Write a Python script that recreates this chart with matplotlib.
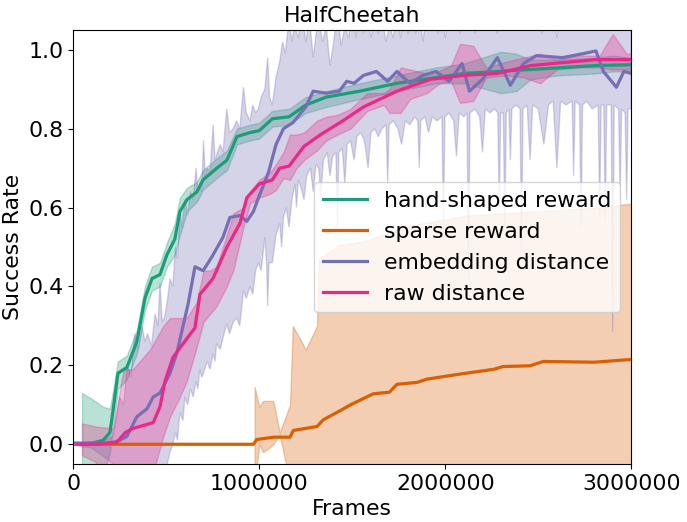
import numpy as np
import matplotlib
matplotlib.use("Agg")
import matplotlib.pyplot as plt
from matplotlib.ticker import FixedLocator

# ---------------- data ----------------
title = "HalfCheetah"
labels = ["hand-shaped reward", "sparse reward", "embedding distance", "raw distance"]
colors = ["#1b9e77", "#d95f02", "#7570b3", "#e7298a"]
xticks = [0, 1000000, 2000000, 3000000]
yticks = [0.0, 0.2, 0.4, 0.6, 0.8, 1.0]

# hand-shaped reward
hand_x = [18e3, 100e3, 160e3, 197e3, 215e3, 240e3, 288e3, 342e3, 385e3, 423e3, 466e3, 503e3,
          546e3, 573e3, 611e3, 665e3, 697e3, 772e3, 826e3, 880e3, 950e3, 1.0e6, 1.07e6, 1.16e6,
          1.25e6, 1.36e6, 1.54e6, 1.74e6, 2.1e6, 2.46e6, 2.81e6, 3.0e6]
hand_y = [0.0, 0.003, 0.01, 0.03, 0.09, 0.18, 0.195, 0.26, 0.37, 0.42, 0.43, 0.48,
          0.52, 0.59, 0.62, 0.64, 0.67, 0.70, 0.72, 0.78, 0.79, 0.795, 0.825, 0.83,
          0.86, 0.88, 0.895, 0.915, 0.94, 0.95, 0.96, 0.962]
hand_band_x = [47e3, 100e3, 160e3, 197e3, 240e3, 288e3, 342e3, 385e3, 423e3, 466e3, 503e3, 546e3,
               573e3, 611e3, 665e3, 697e3, 772e3, 826e3, 880e3, 950e3, 1.0e6, 1.07e6, 1.16e6, 1.25e6,
               1.36e6, 1.54e6, 1.74e6, 1.95e6, 2.1e6, 2.3e6, 2.38e6, 2.46e6, 2.6e6, 2.81e6, 2.9e6, 3.0e6]
hand_hi = [0.13, 0.115, 0.095, 0.09, 0.21, 0.225, 0.29, 0.40, 0.45, 0.46, 0.51, 0.56,
           0.625, 0.65, 0.665, 0.695, 0.725, 0.745, 0.80, 0.81, 0.815, 0.845, 0.85, 0.88,
           0.895, 0.915, 0.935, 0.955, 0.965, 0.995, 0.99, 0.975, 0.975, 0.98, 0.985, 0.98]
hand_lo = [-0.1, -0.1, -0.08, -0.02, 0.14, 0.165, 0.23, 0.34, 0.39, 0.40, 0.45, 0.48,
           0.53, 0.59, 0.615, 0.645, 0.675, 0.695, 0.76, 0.77, 0.775, 0.805, 0.81, 0.84,
           0.855, 0.875, 0.895, 0.915, 0.915, 0.89, 0.895, 0.925, 0.935, 0.94, 0.945, 0.945]

# sparse reward
sparse_x = [0, 968e3, 986e3, 1.076e6, 1.165e6, 1.183e6, 1.31e6, 1.344e6, 1.434e6, 1.49e6, 1.613e6,
            1.70e6, 1.74e6, 1.85e6, 1.90e6, 2.08e6, 2.26e6, 2.31e6, 2.456e6, 2.527e6, 2.8e6, 3.0e6]
sparse_y = [0.0, 0.0, 0.012, 0.018, 0.018, 0.035, 0.045, 0.062, 0.085, 0.10, 0.128,
            0.132, 0.152, 0.157, 0.165, 0.178, 0.19, 0.197, 0.199, 0.21, 0.208, 0.215]
sparse_band_x = [975e3, 1.0e6, 1.02e6, 1.05e6, 1.075e6, 1.11e6, 1.165e6, 1.18e6, 1.25e6, 1.31e6,
                 1.32e6, 1.43e6, 1.58e6, 1.76e6, 2.12e6, 2.47e6, 2.83e6, 3.0e6]
sparse_hi = [0.145, 0.095, 0.11, 0.11, 0.11, 0.03, 0.10, 0.30, 0.24, 0.30,
             0.47, 0.505, 0.516, 0.55, 0.58, 0.59, 0.60, 0.61]
sparse_lo = [-0.1, 0.0, -0.02, -0.01, 0.0, 0.025, -0.1, -0.3, -0.3, -0.3,
             -0.3, -0.3, -0.3, -0.3, -0.3, -0.3, -0.3, -0.3]

# embedding distance
emb_x = [0, 100e3, 160e3, 215e3, 250e3, 288e3, 342e3, 396e3, 430e3, 466e3, 520e3, 556e3, 590e3,
         617e3, 654e3, 698e3, 745e3, 805e3, 842e3, 896e3, 933e3, 968e3, 1.0e6, 1.05e6, 1.09e6,
         1.13e6, 1.18e6, 1.25e6, 1.29e6, 1.36e6, 1.43e6, 1.47e6, 1.51e6, 1.56e6, 1.63e6, 1.69e6,
         1.74e6, 1.81e6, 1.88e6, 1.95e6, 2.02e6, 2.09e6, 2.13e6, 2.2e6, 2.28e6, 2.35e6, 2.42e6,
         2.49e6, 2.63e6, 2.74e6, 2.81e6, 2.85e6, 2.92e6, 2.96e6, 3.0e6]
emb_y = [0.003, 0.003, 0.003, 0.005, 0.01, 0.02, 0.07, 0.09, 0.12, 0.13, 0.18, 0.23, 0.30,
         0.355, 0.45, 0.44, 0.475, 0.525, 0.575, 0.58, 0.565, 0.59, 0.63, 0.69, 0.76,
         0.80, 0.815, 0.855, 0.895, 0.89, 0.895, 0.92, 0.915, 0.935, 0.945, 0.92,
         0.945, 0.915, 0.935, 0.945, 0.92, 0.965, 0.895, 0.925, 0.98, 0.91, 0.965,
         0.985, 0.98, 0.99, 0.997, 0.945, 0.905, 0.945, 0.94]
# upper edge of the band (x in thousands of frames)
emb_hi_k = [0, 100, 160, 215, 250, 270, 290, 310, 330, 350, 370, 385, 400, 420, 440, 455, 466, 478,
            490, 505, 520, 535, 550, 560, 573, 585, 600, 615, 630, 645, 660, 670, 680, 690, 700,
            710, 720, 735, 752, 762, 775, 790, 805, 825, 840, 860, 878, 895, 915, 930, 950, 965,
            980, 995, 1010, 1030, 1045, 1055, 1070, 1090, 1110, 1125, 1140, 1160, 1175, 1190,
            1210, 1230, 1250, 1270, 1290, 1305, 1320, 1340, 1360, 1380, 1400, 1420, 1440, 1460,
            1480, 1500, 1520, 1540, 1560, 1580, 1600, 1620, 1640, 1660, 1680, 1700, 1720, 1740,
            1760, 1780, 1800, 1820, 1840, 1860, 1880, 1900, 1920, 1940, 1960, 1980, 2000, 2020,
            2040, 2060, 2080, 2100, 2120, 2140, 2160, 2180, 2200, 2220, 2240, 2260, 2280, 2300,
            2320, 2340, 2360, 2380, 2400, 2420, 2440, 2460, 2480, 2500, 2520, 2540, 2560, 2580,
            2600, 2620, 2640, 2660, 2680, 2700, 2720, 2740, 2760, 2780, 2800, 2820, 2840, 2860,
            2880, 2900, 2920, 2940, 2960, 2980, 3000]
emb_hi = [0.005, 0.005, 0.01, 0.02, 0.12, 0.10, 0.20, 0.17, 0.28, 0.24, 0.30, 0.26, 0.28, 0.25,
          0.33, 0.30, 0.41, 0.31, 0.32, 0.36, 0.42, 0.40, 0.50, 0.47, 0.585, 0.55, 0.62, 0.58,
          0.64, 0.62, 0.70, 0.64, 0.66, 0.64, 0.77, 0.68, 0.70, 0.69, 0.81, 0.72, 0.74, 0.76,
          0.74, 0.85, 0.79, 0.80, 0.82, 0.80, 0.905, 0.84, 0.82, 0.86, 0.84, 0.85, 0.88, 0.90,
          0.98, 0.88, 0.86, 0.93, 0.97, 1.02, 0.99, 1.08, 1.02, 1.06, 1.03, 1.10, 1.02, 1.08,
          0.98, 1.04, 1.08, 1.02, 1.06, 0.96, 1.02, 1.10, 1.01, 1.06, 1.03, 1.10, 1.03, 1.10,
          1.04, 1.10, 1.03, 1.08, 1.04, 1.10, 1.02, 1.06, 1.03, 1.10, 1.03, 1.10, 1.04, 1.10,
          1.04, 1.10, 1.02, 1.10, 1.05, 1.10, 1.04, 1.10, 1.03, 1.10, 1.05, 1.10, 1.04, 1.10,
          1.06, 1.10, 1.04, 1.10, 1.05, 1.10, 1.06, 1.10, 1.04, 1.10, 1.06, 1.10, 1.05, 1.10,
          1.06, 1.10, 1.05, 1.10, 1.06, 1.10, 1.04, 1.10, 1.06, 1.10, 1.03, 1.10, 1.06, 1.10,
          1.05, 1.10, 1.06, 1.10, 1.06, 1.10, 1.05, 1.10, 1.06, 1.10, 1.06, 1.10, 1.06, 1.10,
          1.06, 1.10, 1.08]
# lower edge of the band (x in thousands of frames)
emb_lo_k = [0, 100, 160, 215, 250, 480, 500, 520, 535, 550, 560, 573, 590, 600, 615, 630, 645,
            660, 670, 680, 690, 700, 720, 735, 752, 762, 770, 790, 805, 825, 840, 860, 878, 895,
            915, 930, 950, 965, 980, 995, 1010, 1030, 1040, 1045, 1052, 1070, 1090, 1110, 1120,
            1130, 1145, 1160, 1175, 1192, 1200, 1210, 1225, 1240, 1255, 1275, 1290, 1305, 1320,
            1330, 1345, 1365, 1380, 1395, 1412, 1420, 1428, 1446, 1460, 1472, 1490, 1510, 1525,
            1545, 1565, 1585, 1600, 1620, 1640, 1660, 1682, 1690, 1698, 1720, 1745, 1765, 1785,
            1810, 1835, 1852, 1860, 1868, 1890, 1910, 1930, 1955, 1982, 1990, 1998, 2020, 2045,
            2060, 2075, 2100, 2117, 2125, 2133, 2160, 2185, 2200, 2215, 2240, 2265, 2282, 2290,
            2298, 2312, 2320, 2328, 2342, 2350, 2358, 2380, 2402, 2410, 2418, 2440, 2456, 2470,
            2500, 2530, 2555, 2580, 2600, 2620, 2650, 2682, 2690, 2698, 2722, 2730, 2738, 2760,
            2790, 2822, 2830, 2838, 2852, 2860, 2868, 2892, 2900, 2908, 2932, 2940, 2948, 2967,
            2975, 2983, 3000]
emb_lo = [-0.002, -0.01, -0.03, -0.05, -0.1, -0.1, -0.06, -0.02, 0.0, 0.03, 0.01, 0.08, 0.06,
          0.12, 0.10, 0.14, 0.12, 0.16, 0.14, 0.19, 0.17, 0.18, 0.21, 0.19, 0.23, 0.21, 0.255,
          0.24, 0.27, 0.305, 0.28, 0.31, 0.32, 0.30, 0.39, 0.37, 0.40, 0.38, 0.44, 0.46, 0.44,
          0.525, 0.45, 0.35, 0.46, 0.46, 0.53, 0.56, 0.50, 0.575, 0.60, 0.55, 0.62, 0.66, 0.60,
          0.67, 0.65, 0.62, 0.68, 0.70, 0.64, 0.71, 0.70, 0.63, 0.72, 0.74, 0.68, 0.73, 0.74,
          0.55, 0.74, 0.75, 0.66, 0.76, 0.77, 0.72, 0.78, 0.79, 0.77, 0.70, 0.79, 0.80, 0.78,
          0.80, 0.81, 0.66, 0.81, 0.82, 0.80, 0.76, 0.82, 0.81, 0.83, 0.82, 0.70, 0.82, 0.83,
          0.79, 0.83, 0.82, 0.83, 0.55, 0.83, 0.84, 0.82, 0.73, 0.84, 0.83, 0.84, 0.42, 0.84,
          0.85, 0.83, 0.74, 0.85, 0.84, 0.85, 0.84, 0.60, 0.84, 0.84, 0.55, 0.84, 0.85, 0.72,
          0.85, 0.86, 0.85, 0.50, 0.85, 0.86, 0.72, 0.86, 0.85, 0.76, 0.86, 0.87, 0.70, 0.87,
          0.86, 0.87, 0.68, 0.87, 0.86, 0.55, 0.86, 0.87, 0.85, 0.86, 0.58, 0.86, 0.86, 0.57,
          0.86, 0.86, 0.285, 0.86, 0.85, 0.62, 0.85, 0.84, 0.62, 0.85, 0.85]

# raw distance
raw_x = [25e3, 120e3, 234e3, 280e3, 320e3, 430e3, 466e3, 493e3, 536e3, 590e3, 654e3, 681e3,
         751e3, 826e3, 896e3, 933e3, 1.0e6, 1.07e6, 1.11e6, 1.16e6, 1.24e6, 1.33e6, 1.45e6,
         1.56e6, 1.74e6, 1.92e6, 2.1e6, 2.28e6, 2.46e6, 2.81e6, 3.0e6]
raw_y = [0.0, 0.0, 0.005, 0.03, 0.04, 0.055, 0.095, 0.16, 0.22, 0.255, 0.295, 0.38,
         0.42, 0.50, 0.56, 0.625, 0.66, 0.67, 0.70, 0.705, 0.755, 0.785, 0.82,
         0.855, 0.895, 0.925, 0.935, 0.94, 0.96, 0.975, 0.975]
raw_band_x = [47e3, 120e3, 215e3, 270e3, 320e3, 412e3, 484e3, 520e3, 573e3, 610e3, 663e3, 700e3,
              735e3, 770e3, 825e3, 860e3, 915e3, 950e3, 1.0e6, 1.06e6, 1.09e6, 1.13e6, 1.165e6,
              1.2e6, 1.24e6, 1.31e6, 1.36e6, 1.42e6, 1.49e6, 1.58e6, 1.67e6, 1.7e6, 1.76e6,
              1.81e6, 1.9e6, 1.97e6, 2.03e6, 2.08e6, 2.15e6, 2.22e6, 2.33e6, 2.42e6, 2.51e6,
              2.6e6, 2.72e6, 2.83e6, 2.9e6, 2.975e6, 3.0e6]
raw_hi = [0.053, 0.045, 0.04, 0.19, 0.19, 0.24, 0.30, 0.32, 0.32, 0.32, 0.36, 0.44,
          0.44, 0.45, 0.53, 0.585, 0.60, 0.64, 0.67, 0.69, 0.71, 0.74, 0.785,
          0.785, 0.79, 0.82, 0.83, 0.835, 0.85, 0.89, 0.89, 0.90, 0.955,
          0.95, 0.94, 0.947, 0.96, 1.015, 1.01, 0.955, 0.97, 0.98, 0.99,
          0.975, 0.985, 0.985, 1.04, 0.99, 0.99]
raw_lo = [-0.028, -0.045, -0.1, -0.1, -0.1, -0.1, 0.02, 0.07, 0.12, 0.16, 0.245, 0.31,
          0.33, 0.35, 0.40, 0.44, 0.55, 0.61, 0.625, 0.635, 0.645, 0.675, 0.67,
          0.70, 0.72, 0.745, 0.77, 0.785, 0.80, 0.845, 0.86, 0.84, 0.84,
          0.875, 0.89, 0.915, 0.92, 0.865, 0.87, 0.93, 0.935, 0.93, 0.915,
          0.95, 0.955, 0.955, 0.95, 0.95, 0.95]

# ---------------- plot ----------------
FS = 15.84
plt.rcParams["font.family"] = ["DejaVu Sans"]
fig = plt.figure(figsize=(6.87, 5.22), dpi=100)
ax = fig.add_axes([0.1067, 0.1111, 0.8122, 0.8314])

# hand-shaped reward
ax.fill_between(hand_band_x, hand_lo, hand_hi, color=colors[0], alpha=0.3, linewidth=1.0)
ax.plot(hand_x, hand_y, color=colors[0], lw=2.3, label=labels[0])

# sparse reward
ax.fill_between(sparse_band_x, sparse_lo, sparse_hi, color=colors[1], alpha=0.3, linewidth=1.0)
ax.plot(sparse_x, sparse_y, color=colors[1], lw=2.3, label=labels[1])

# embedding distance (band edges sampled independently)
ehx = np.array(emb_hi_k) * 1e3
elx = np.array(emb_lo_k) * 1e3
ax.fill(np.concatenate([ehx, elx[::-1]]),
        np.concatenate([np.array(emb_hi), np.array(emb_lo)[::-1]]),
        color=colors[2], alpha=0.3, linewidth=1.0)
ax.plot(emb_x, emb_y, color=colors[2], lw=2.3, label=labels[2])

# raw distance
ax.fill_between(raw_band_x, raw_lo, raw_hi, color=colors[3], alpha=0.3, linewidth=1.0)
ax.plot(raw_x, raw_y, color=colors[3], lw=2.3, label=labels[3])

ax.set_xlim(0, 3000000)
ax.set_ylim(-0.05, 1.05)
ax.xaxis.set_major_locator(FixedLocator(xticks))
ax.yaxis.set_major_locator(FixedLocator(yticks))
ax.set_xticklabels([str(t) for t in xticks])
ax.set_yticklabels([f"{t:.1f}" for t in yticks])
ax.tick_params(labelsize=FS)
ax.set_title(title, fontsize=FS)
ax.set_xlabel("Frames", fontsize=FS)
ax.set_ylabel("Success Rate", fontsize=FS)
ax.legend(loc="center right", fontsize=FS)

fig.savefig("out.png", dpi=100)
